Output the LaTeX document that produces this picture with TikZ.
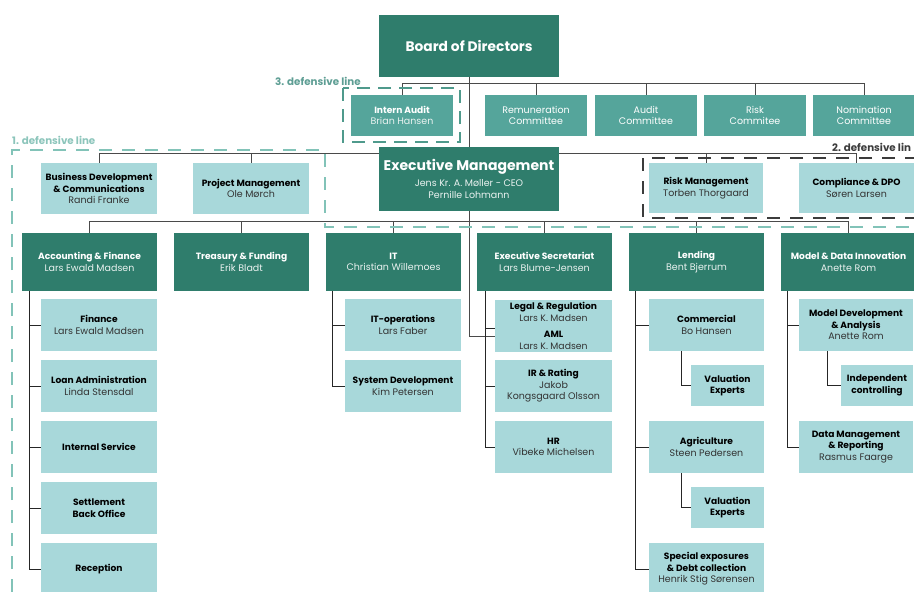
\documentclass[tikz,border=0pt]{standalone}
\usepackage{fontspec}
\setmainfont{Poppins}
\usetikzlibrary{backgrounds}
\definecolor{dkc}{HTML}{2F7D6C}
\definecolor{mdc}{HTML}{55A59B}
\definecolor{ltc}{HTML}{A8D8DA}
\definecolor{lnc}{HTML}{4A4A4A}
\definecolor{lnd}{HTML}{262626}
\definecolor{dsone}{HTML}{82C3B8}
\definecolor{dstwo}{HTML}{3C3C3C}
\definecolor{dsthree}{HTML}{4F9A8C}
\definecolor{lblthree}{HTML}{5E9E94}
\definecolor{lblone}{HTML}{8CC5BB}
\definecolor{whoc}{HTML}{333333}
\newcommand\hd[1]{{\fontsize{9.1}{11.5}\selectfont\bfseries #1}}
\newcommand\lw[1]{{\color{whoc}#1}}
\newcommand\dw[1]{{\color{white!90!dkc}#1}}
\tikzset{
  box/.style={draw=none, inner sep=1pt, align=center, font=\fontsize{9.5}{11.5}\selectfont},
  dk/.style={box, fill=dkc, text=white},
  md/.style={box, fill=mdc, text=white},
  lt/.style={box, fill=ltc, text=black},
  dept/.style={dk, minimum width=135pt, minimum height=58pt},
  sub/.style={lt, minimum width=116pt, minimum height=52pt},
  small/.style={lt, minimum width=73pt, minimum height=41pt},
  cmt/.style={md, minimum width=102pt, minimum height=41pt},
  staff/.style={lt, minimum width=116pt, minimum height=51pt},
  conn/.style={draw=lnc, line width=0.9pt},
  connd/.style={draw=lnd, line width=0.9pt},
  dashone/.style={draw=dsone, line width=2.2pt, dash pattern=on 13pt off 10pt},
  dashtwo/.style={draw=dstwo, line width=2.4pt, dash pattern=on 13pt off 10pt},
  dashthree/.style={draw=dsthree, line width=2.6pt, dash pattern=on 13pt off 8pt},
  lbl/.style={anchor=base west, inner sep=0pt, font=\fontsize{10.3}{11}\selectfont\bfseries},
}
\begin{document}
\begin{tikzpicture}[x=1pt,y=-1pt]
\useasboundingbox (0,0) rectangle (914,592);
% top
\node[dk, minimum width=180pt, minimum height=62pt, font=\fontsize{13.8}{15}\selectfont\bfseries] (board) at (469,46) {Board of Directors};
\node[cmt] (intern) at (402,115.5) {\hd{Intern Audit}\\\dw{Brian Hansen}};
\node[cmt] (rem) at (536,115.5) {Remuneration\\Committee};
\node[cmt] (aud) at (646,115.5) {Audit\\Committee};
\node[cmt] (risk) at (755,115.5) {Risk\\Commitee};
\node[cmt] (nom) at (864,115.5) {Nomination\\Committee};
\node[dk, minimum width=180pt, minimum height=64pt, font=\fontsize{9.5}{12}\selectfont] (exec) at (469,179)
  {{\fontsize{14}{16}\selectfont\bfseries Executive Management}\\[4pt]\dw{Jens Kr. A. Møller - CEO}\\\dw{Pernille Lohmann}};
% staff
\node[staff] (bd) at (99,188.5) {\hd{Business Development}\\\hd{\& Communications}\\\lw{Randi Franke}};
\node[staff] (pm) at (251,188.5) {\hd{Project Management}\\\lw{Ole Mørch}};
\node[staff, minimum width=114pt, minimum height=50pt] (rm) at (706,188) {\hd{Risk Management}\\\lw{Torben Thorgaard}};
\node[staff, minimum width=115pt, minimum height=50pt] (cd) at (856.5,188) {\hd{Compliance \& DPO}\\\lw{Søren Larsen}};
% departments
\node[dept] (acc) at (89.5,262) {\hd{Accounting \& Finance}\\\dw{Lars Ewald Madsen}};
\node[dept] (tre) at (241.5,262) {\hd{Treasury \& Funding}\\\dw{Erik Bladt}};
\node[dept] (it) at (393.5,262) {\hd{IT}\\\dw{Christian Willemoes}};
\node[dept] (es) at (544.5,262) {\hd{Executive Secretariat}\\\dw{Lars Blume-Jensen}};
\node[dept] (lend) at (696.5,262) {\hd{Lending}\\\dw{Bent Bjerrum}};
\node[dept] (model) at (848.5,262) {\hd{Model \& Data Innovation}\\\dw{Anette Rom}};
% accounting subs
\node[sub] (fin) at (99,325) {\hd{Finance}\\\lw{Lars Ewald Madsen}};
\node[sub] (loan) at (99,386) {\hd{Loan Administration}\\\lw{Linda Stensdal}};
\node[sub] (ints) at (99,447) {\hd{Internal Service}};
\node[sub] (set) at (99,508) {\hd{Settlement}\\\hd{Back Office}};
\node[sub] (rec) at (99,569) {\hd{Reception}};
% IT subs
\node[sub] (itop) at (403,325) {\hd{IT-operations}\\\lw{Lars Faber}};
\node[sub] (sysd) at (403,386) {\hd{System Development}\\\lw{Kim Petersen}};
% ES subs
\node[sub, minimum width=117pt, inner sep=0pt, font=\fontsize{9.3}{12.3}\selectfont] (legal) at (553.5,326) {{\fontsize{9.1}{12.3}\selectfont\bfseries Legal \& Regulation}\\\lw{Lars K. Madsen}\\[3pt]{\fontsize{9.1}{12.3}\selectfont\bfseries AML}\\\lw{Lars K. Madsen}};
\node[sub, minimum width=117pt] (ir) at (553.5,386) {\hd{IR \& Rating}\\\lw{Jakob}\\\lw{Kongsgaard Olsson}};
\node[sub, minimum width=117pt] (hr) at (553.5,447) {\hd{HR}\\\lw{Vibeke Michelsen}};
% lending subs
\node[sub, minimum width=115pt] (com) at (706.5,325) {\hd{Commercial}\\\lw{Bo Hansen}};
\node[small] (valone) at (727.5,385.5) {\hd{Valuation}\\\hd{Experts}};
\node[sub, minimum width=115pt] (agri) at (706.5,447) {\hd{Agriculture}\\\lw{Steen Pedersen}};
\node[small] (valtwo) at (727.5,507.5) {\hd{Valuation}\\\hd{Experts}};
\node[sub, minimum width=115pt] (spec) at (706.5,569) {\hd{Special exposures}\\\hd{\& Debt collection}\\\lw{Henrik Stig Sørensen}};
% model subs
\node[sub, minimum width=114pt] (mdev) at (856,325) {\hd{Model Development}\\\hd{\& Analysis}\\\lw{Anette Rom}};
\node[small, minimum width=72pt] (indc) at (877,385.5) {\hd{Independent}\\\hd{controlling}};
\node[sub, minimum width=114pt] (dmr) at (856,447) {\hd{Data Management}\\\hd{\& Reporting}\\\lw{Rasmus Faarge}};
% labels
\node[lbl, text=lblthree] (lthree) at (275,85) {3. defensive line};
\node[lbl, text=lblone] (lone) at (12,144) {1. defensive line};
\node[lbl, text=dstwo] (ltwo) at (832,151) {2. defensive lin};
% vertical helper coordinates
\coordinate (accv) at ([xshift=-60.5pt]acc.south);
\coordinate (itv) at ([xshift=-61.5pt]it.south);
\coordinate (esv) at ([xshift=-59.5pt]es.south);
\coordinate (lendv) at ([xshift=-61.5pt]lend.south);
\coordinate (modv) at ([xshift=-61.5pt]model.south);
\coordinate (comv) at ([xshift=-25.5pt]com.south);
\coordinate (agriv) at ([xshift=-25.5pt]agri.south);
\coordinate (mdevv) at ([xshift=-29pt]mdev.south);
\coordinate (legalw) at ([yshift=-2pt]legal.west);
\coordinate (amlw) at ([yshift=-10pt]legal.west);
\begin{pgfonlayer}{background}
% committees
\draw[conn] (board.south) -- (exec.north);
\draw[conn] (intern.north) -- ++(0,-11) -| (nom.north);
\foreach \n in {rem,aud,risk} \draw[conn] (\n.north) -- ++(0,-11);
% staff
\draw[conn] (bd.north) -- ++(0,-9) -| (cd.north);
\draw[conn] (pm.north) -- ++(0,-9);
\draw[conn] (rm.north) -- ++(0,-9);
% departments
\draw[conn] (acc.north) -- ++(0,-11) -| (model.north);
\foreach \n in {tre,it,es,lend} \draw[conn] (\n.north) -- ++(0,-11);
\draw[conn] (exec.south) |- (amlw);
% accounting
\draw[connd] (accv) |- (rec.west);
\foreach \n in {fin,loan,ints,set} \draw[connd] (accv |- \n.west) -- (\n.west);
% IT
\draw[connd] (itv) |- (sysd.west);
\draw[connd] (itv |- itop.west) -- (itop.west);
% ES
\draw[connd] (esv) |- (hr.west);
\draw[connd] (esv |- legalw) -- (legalw);
\draw[connd] (esv |- ir.west) -- (ir.west);
% lending
\draw[connd] (lendv) |- (spec.west);
\draw[connd] (lendv |- com.west) -- (com.west);
\draw[connd] (lendv |- agri.west) -- (agri.west);
\draw[connd] (comv) |- (valone.west);
\draw[connd] (agriv) |- (valtwo.west);
% model
\draw[connd] (modv) |- (dmr.west);
\draw[connd] (modv |- mdev.west) -- (mdev.west);
\draw[connd] (mdevv) |- (indc.west);
% defensive lines
\draw[dashone] (12,592) -- (12,150) -- (325,150) -- (325,227) -- (914,227);
\draw[dashtwo] (643,158) rectangle (916,218);
\draw[dashthree] (343,88) rectangle (460,142);
\end{pgfonlayer}
\end{tikzpicture}
\end{document}
